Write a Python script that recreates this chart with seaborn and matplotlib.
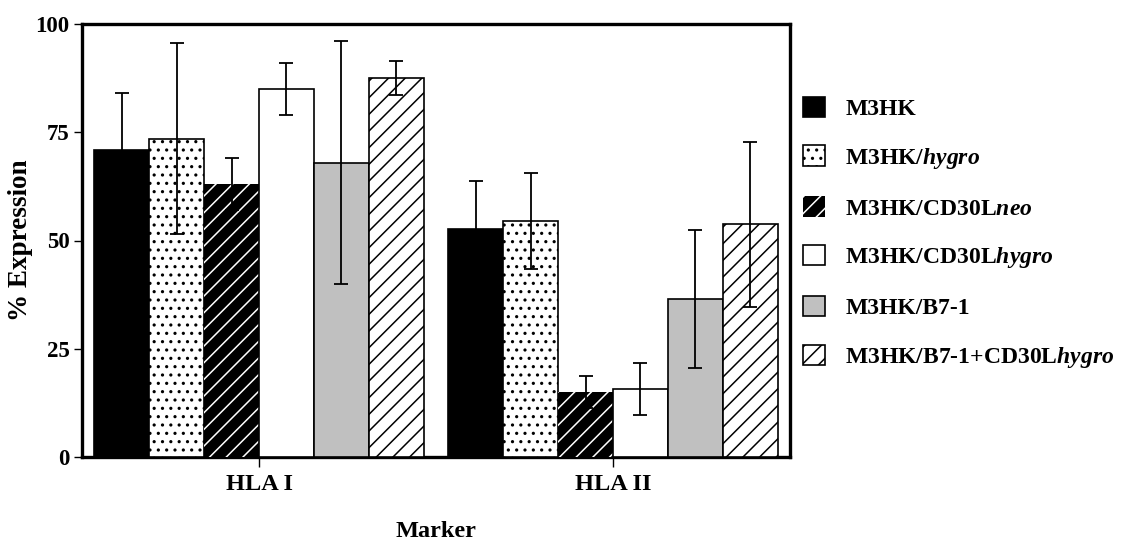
import numpy as np
import pandas as pd
import matplotlib
matplotlib.use('Agg')
import matplotlib.pyplot as plt
import seaborn as sns
from matplotlib.patches import Patch

# ---- data ----
markers = ['HLA I', 'HLA II']
lines = ['M3HK', 'M3HK/hygro', 'M3HK/CD30Lneo', 'M3HK/CD30Lhygro', 'M3HK/B7-1', 'M3HK/B7-1+CD30Lhygro']
legend_labels = ['M3HK', r'M3HK/$\mathit{hygro}$', r'M3HK/CD30L$\mathit{neo}$',
                 r'M3HK/CD30L$\mathit{hygro}$', 'M3HK/B7-1', r'M3HK/B7-1+CD30L$\mathit{hygro}$']
hla1_values = [71.0, 73.5, 63.0, 85.0, 68.0, 87.5]
hla2_values = [52.7, 54.5, 15.0, 15.7, 36.5, 53.7]
hla1_err = [13.0, 22.0, 6.0, 6.0, 28.0, 4.0]
hla2_err = [11.0, 11.0, 3.6, 6.0, 16.0, 19.0]
yticks = [0, 25, 50, 75, 100]

# ---- style ----
sns.set_style('ticks')
plt.rcParams['font.family'] = ['Liberation Serif', 'DejaVu Serif']
plt.rcParams['font.weight'] = 'bold'
plt.rcParams['text.color'] = 'black'
plt.rcParams['axes.labelcolor'] = 'black'
plt.rcParams['xtick.color'] = 'black'
plt.rcParams['ytick.color'] = 'black'
plt.rcParams['axes.edgecolor'] = 'black'
plt.rcParams['mathtext.fontset'] = 'custom'
plt.rcParams['mathtext.rm'] = 'Liberation Serif:bold'
plt.rcParams['mathtext.it'] = 'Liberation Serif:bold:italic'
plt.rcParams['hatch.linewidth'] = 1.1

facecolors = ['black', 'white', 'black', 'white', '#c0c0c0', 'white']
hatches = ['', '..', '//', '', '', '//']
hatchcolors = ['black', 'black', 'white', 'black', 'black', 'black']

df = pd.DataFrame({
    'Marker': [m for m in markers for _ in lines],
    'Line': lines * len(markers),
    'Value': hla1_values + hla2_values,
})

fig = plt.figure(figsize=(11.28, 5.45), dpi=100)
ax = fig.add_axes([82/1128, 1-457/545, (790-82)/1128, (457-24)/545])

sns.barplot(data=df, x='Marker', y='Value', hue='Line', hue_order=lines, order=markers,
            palette=dict(zip(lines, facecolors)), saturation=1, width=0.93, gap=0,
            errorbar=None, legend=False, ax=ax, edgecolor='black', linewidth=1.2, zorder=3)

bar_containers = list(ax.containers)
errs_by_line = [[hla1_err[i], hla2_err[i]] for i in range(len(lines))]
for i, cont in enumerate(bar_containers):
    xs, ys = [], []
    for bar in cont:
        bar.set_hatch(hatches[i])
        if hatchcolors[i] == 'white':
            bar.set_edgecolor('white')
            bar.set_linewidth(0)
        xs.append(bar.get_x() + bar.get_width() / 2)
        ys.append(bar.get_height())
    ax.errorbar(xs, ys, yerr=errs_by_line[i], fmt='none', ecolor='black',
                elinewidth=1.3, capsize=5, capthick=1.3, zorder=5)

ax.set_ylim(0, 100)
ax.set_xlim(-0.5, 1.5)
ax.set_yticks(yticks)
ax.set_yticklabels([str(t) for t in yticks], fontsize=16.5, fontweight='bold')
ax.tick_params(axis='y', length=6, width=1, pad=3)
ax.tick_params(axis='x', length=7, width=1, pad=5, labelsize=17.5)
for lab in ax.get_xticklabels():
    lab.set_fontweight('bold')
for s in ['left', 'top', 'right', 'bottom']:
    ax.spines[s].set_visible(True)
    ax.spines[s].set_linewidth(2.4)
    ax.spines[s].set_zorder(1)
ax.set_ylabel('% Expression', fontsize=19.5, fontweight='bold', labelpad=2)
ax.set_xlabel('Marker', fontsize=17.5, fontweight='bold', labelpad=19)

handles = []
for fc, h, hc in zip(facecolors, hatches, hatchcolors):
    if hc == 'white':
        handles.append(Patch(facecolor=fc, edgecolor='white', hatch=h, linewidth=0))
    else:
        handles.append(Patch(facecolor=fc, edgecolor='black', hatch=h, linewidth=1.2))
fig.legend(handles, legend_labels, loc='upper left', bbox_to_anchor=(0.7035, 0.840),
           frameon=False, prop={'size': 17, 'weight': 'bold'}, handlelength=0.95,
           handleheight=0.95, labelspacing=1.08, handletextpad=0.85, borderaxespad=0)

fig.savefig('out.png', dpi=100)
